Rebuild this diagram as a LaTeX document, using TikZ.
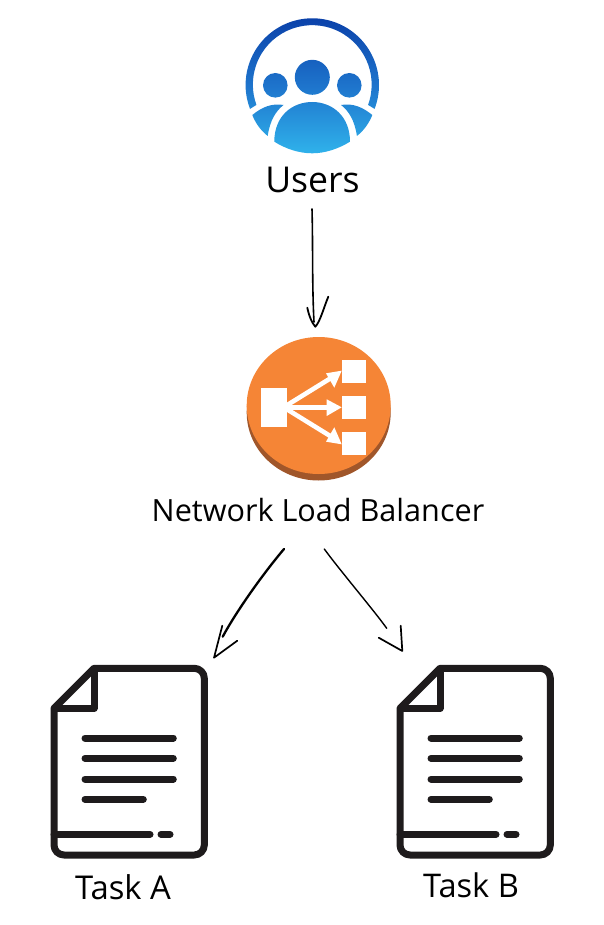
\documentclass[tikz,border=0pt]{standalone}
\usepackage{fontspec}
\setmainfont{Open Sans}
\definecolor{lborange}{HTML}{F58536}
\definecolor{lbbrown}{HTML}{A0562A}
\definecolor{docblack}{HTML}{1E1B1C}
\definecolor{usertop}{HTML}{0A3FA8}
\definecolor{usermid}{HTML}{1E74CC}
\definecolor{userbot}{HTML}{30B4EC}
\tikzset{
  txt/.style={inner sep=0pt,text=black},
  sketch/.style={draw=black,line cap=round,line join=round},
  docline/.style={draw=docblack,line width=7pt,line cap=round},
  lbshaft/.style={draw=white,line width=4.6pt},
  docicon/.pic={
    \draw[docblack,line width=7pt,line join=round]
      (94,668.3) -- (194.3,668.3) arc[start angle=90,end angle=0,radius=10pt]
      -- (204.3,845) arc[start angle=0,end angle=-90,radius=10pt]
      -- (64,855) arc[start angle=-90,end angle=-180,radius=10pt]
      -- (54,708.3) -- cycle;
    \draw[docblack,line width=7pt,line join=round] (94,668.3) -- (94,708.3) -- (54,708.3);
    \draw[docline] (85,738) -- (173.3,738);
    \draw[docline] (85,758.3) -- (173.3,758.3);
    \draw[docline] (85,779) -- (173.3,779);
    \draw[docline] (85,799.3) -- (143.3,799.3);
    \draw[docline] (54,834.3) -- (150,834.3);
    \draw[docline] (161,834.3) -- (170,834.3);
  }
}
\begin{document}
\begin{tikzpicture}[x=1pt,y=-1pt]
\useasboundingbox (0,0) rectangle (603,925);
% Users icon
\begin{scope}
  \clip
    (312.3,85) ++(201:66.7pt) arc[start angle=201,end angle=-21,radius=66.7pt]
    -- ++(-6.5,-4) arc[start angle=-20,end angle=200,radius=59.4pt] -- cycle
    (329.8,77.3) arc[start angle=0,end angle=360,radius=17.5pt] -- cycle
    (287.6,85.3) arc[start angle=0,end angle=360,radius=12.3pt] -- cycle
    (361.6,85.3) arc[start angle=0,end angle=360,radius=12.3pt] -- cycle
    (274.3,141.7) .. controls (274.3,116) and (292,102) .. (312.3,102) .. controls (332,102) and (350,116) .. (350,141.7)
       .. controls (338,149) and (325,153.3) .. (312.3,153.3) .. controls (299,153.3) and (286,149) .. (274.3,141.7) -- cycle
    (252.3,115) .. controls (262,107) and (272,103) .. (283.5,105) .. controls (276,111) and (270,120) .. (267.7,136) .. controls (260,130) and (255,122) .. (252.3,115) -- cycle
    (372.3,115) .. controls (362.6,107) and (352.6,103) .. (341.1,105) .. controls (348.6,111) and (354.6,120) .. (356.9,136) .. controls (364.6,130) and (369.6,122) .. (372.3,115) -- cycle;
  \shade[top color=usertop,bottom color=userbot,middle color=usermid] (240,15) rectangle (385,156);
\end{scope}
\node[txt,font=\fontsize{35.6}{38}\selectfont] (users) at (312.5,180) {Users};
% Load balancer icon
\fill[lbbrown] (318.7,412.5) ellipse [x radius=72pt,y radius=68pt];
\fill[lborange] (318.7,405.5) ellipse [x radius=72pt,y radius=68.5pt];
\fill[white] (261,388.3) rectangle (287.3,426.7);
\fill[white] (341.7,360) rectangle (365.7,383.3);
\fill[white] (341.7,395.7) rectangle (365.7,419);
\fill[white] (341.7,431.7) rectangle (365.7,455);
\draw[lbshaft] (287.3,405) -- (331,378);
\draw[lbshaft] (287.3,407.3) -- (328,407.3);
\draw[lbshaft] (287.3,409.5) -- (331,436.5);
\fill[white] (341.7,370.7) -- (326,373.3) -- (334.3,387.7) -- cycle;
\fill[white] (341.7,407.3) -- (326.7,399.3) -- (326.7,416) -- cycle;
\fill[white] (341.7,444.3) -- (334.3,427.3) -- (326,441.7) -- cycle;
\node[txt,font=\fontsize{30.6}{34}\selectfont] (nlb) at (318,510) {Network Load Balancer};
% Documents
\pic (taska) at (0,0) {docicon};
\pic (taskb) at (346,0) {docicon};
\node[txt,font=\fontsize{32.8}{36}\selectfont] (ta) at (123,887) {Task A};
\node[txt,font=\fontsize{32.6}{36}\selectfont] (tb) at (471,885) {Task B};
% Connectors
\coordinate (u1) at (312,209);
\coordinate (u2) at (315.3,326.7);
\coordinate (l1) at (284,549);
\coordinate (l2) at (222.7,636.7);
\coordinate (l3) at (214,657.7);
\coordinate (r1) at (324.3,549);
\coordinate (r2) at (386.7,628.3);
\coordinate (r3) at (402.3,651);
\draw[sketch,line width=1.6pt] (u1) .. controls (313,245) and (312,285) .. (314,322);
\draw[sketch,line width=1.8pt] (307.3,307.7) .. controls (309,316) and (312,323) .. (u2) .. controls (320,322) and (324,307) .. (328.3,296.7);
\draw[sketch,line width=2.3pt] (l1) .. controls (262,575) and (236,612) .. (l2);
\draw[sketch,line width=1.7pt] (222.3,625.7) -- (l3) -- (237.3,640.7);
\draw[sketch,line width=1.4pt] (r1) .. controls (338,568) and (376,613) .. (r2);
\draw[sketch,line width=1.7pt] (378.7,637.7) -- (r3) -- (400.7,625.7);
\end{tikzpicture}
\end{document}
